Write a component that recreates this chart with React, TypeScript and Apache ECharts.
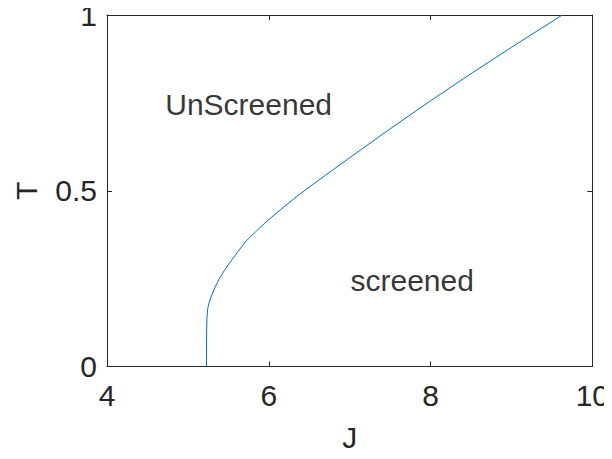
import React, { useEffect, useRef } from "react";
import * as echarts from "echarts";

const curveJ = [5.23, 5.23, 5.232, 5.236, 5.245, 5.26, 5.29, 5.34, 5.39, 5.45, 5.52, 5.62, 5.72, 5.85, 5.97, 6.15, 6.38, 6.7, 7.0, 7.5, 8.0, 8.5, 9.0, 9.3, 9.63];
const curveT = [0, 0.05, 0.1, 0.14, 0.165, 0.18, 0.2, 0.228, 0.25, 0.273, 0.296, 0.327, 0.357, 0.386, 0.412, 0.447, 0.49, 0.544, 0.594, 0.676, 0.756, 0.833, 0.908, 0.952, 1.0];

const xTicks = [4, 6, 8, 10];
const yTicks = [0, 0.5, 1];

const labelTexts = ["UnScreened", "screened"];
const labelJ = [4.72, 7.01];
const labelT = [0.745, 0.245];

const FONT = "'Liberation Sans', Arial, Helvetica, sans-serif";
const AX = "#262626";

export default function App() {
  const ref = useRef<HTMLDivElement>(null);
  useEffect(() => {
    if (!ref.current) return;
    const chart = echarts.init(ref.current, undefined, { renderer: "svg" });
    const tickStyle = { show: true, inside: true, length: 5, lineStyle: { color: AX, width: 1 } };
    const lineStyle = { show: true, onZero: false, lineStyle: { color: AX, width: 1 } };
    chart.setOption({
      animation: false,
      backgroundColor: "#ffffff",
      grid: { left: 107, right: 17, top: 7, bottom: 92.5, containLabel: false },
      xAxis: [
        {
          type: "value",
          min: xTicks[0],
          max: xTicks[xTicks.length - 1],
          interval: 2,
          axisLine: lineStyle,
          axisTick: tickStyle,
          splitLine: { show: false },
          axisLabel: { fontSize: 30, color: AX, fontFamily: FONT, margin: 14 },
          name: "J",
          nameLocation: "middle",
          nameGap: 56,
          nameTextStyle: { fontSize: 30, color: AX, fontFamily: FONT },
        },
        {
          type: "value",
          position: "top",
          min: xTicks[0],
          max: xTicks[xTicks.length - 1],
          interval: 2,
          axisLine: lineStyle,
          axisTick: tickStyle,
          axisLabel: { show: false },
          splitLine: { show: false },
        },
      ],
      yAxis: [
        {
          type: "value",
          min: yTicks[0],
          max: yTicks[yTicks.length - 1],
          interval: 0.5,
          axisLine: lineStyle,
          axisTick: tickStyle,
          splitLine: { show: false },
          axisLabel: { fontSize: 30, color: AX, fontFamily: FONT, margin: 10 },
          name: "T",
          nameLocation: "middle",
          nameGap: 66,
          nameTextStyle: { fontSize: 30, color: AX, fontFamily: FONT },
        },
        {
          type: "value",
          position: "right",
          min: yTicks[0],
          max: yTicks[yTicks.length - 1],
          interval: 0.5,
          axisLine: lineStyle,
          axisTick: tickStyle,
          axisLabel: { show: false },
          splitLine: { show: false },
        },
      ],
      series: [
        {
          type: "line",
          data: curveJ.map((j, i) => [j, curveT[i]]),
          showSymbol: false,
          symbol: "none",
          lineStyle: { color: "#0072BD", width: 1 },
          smooth: false,
        },
        {
          type: "scatter",
          symbolSize: 0,
          data: labelTexts.map((t, i) => ({ value: [labelJ[i], labelT[i]], name: t })),
          label: {
            show: true,
            position: [0, 0],
            align: "left",
            verticalAlign: "middle",
            formatter: (p: any) => p.name,
            fontSize: 30,
            color: "#000000",
            fontFamily: FONT,
          },
        },
      ],
    });
    return () => chart.dispose();
  }, []);
  return <div ref={ref} style={{ width: 612, height: 459, margin: -8 }} />;
}
